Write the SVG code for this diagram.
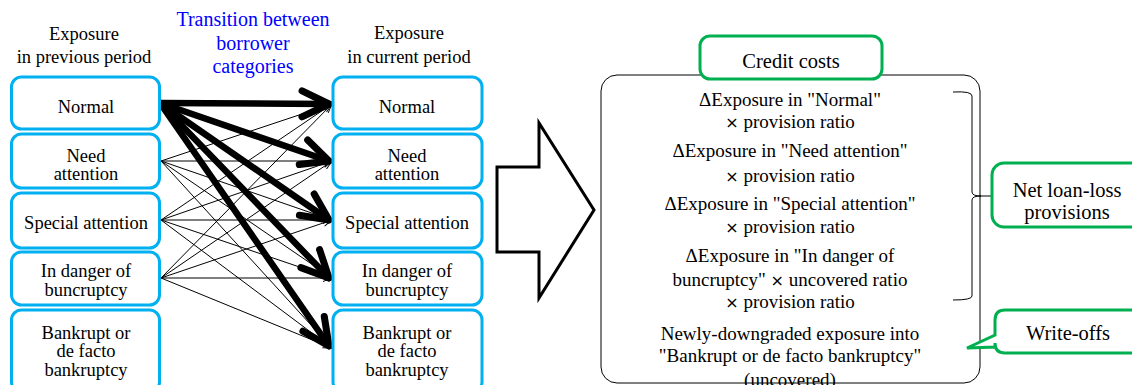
<svg xmlns="http://www.w3.org/2000/svg" width="1132" height="385" viewBox="0 0 1132 385" font-family="'Liberation Serif', Tinos, 'Times New Roman', 'DejaVu Serif', serif">
<style>
.t{font-family:"Liberation Serif",Tinos,"Times New Roman","DejaVu Serif",serif;fill:#000;text-anchor:middle}
.n{font-size:18.5px}
.p{font-size:19px}
.g{font-size:20.5px}
.blue{font-size:20px;fill:#0000ff}
.box{fill:#fff;stroke:#00b0f0;stroke-width:3}
.gbox{fill:#fff;stroke:#00b050;stroke-width:3}
.thin{stroke:#000;stroke-width:1;fill:none;marker-end:url(#ah)}
.thick{stroke:#000;stroke-width:6.5;fill:none;stroke-linecap:round;marker-end:url(#ahb)}
.x{font-family:"DejaVu Sans",sans-serif;font-size:16px}
</style>
<defs>
<marker id="ah" markerUnits="userSpaceOnUse" orient="auto" overflow="visible" markerWidth="1" markerHeight="1" refX="0" refY="0">
<path d="M-9,-3.5 L0,0 L-9,3.5" fill="none" stroke="#000" stroke-width="1"/>
</marker>
<marker id="ahb" markerUnits="userSpaceOnUse" orient="auto" overflow="visible" markerWidth="1" markerHeight="1" refX="0" refY="0">
<path d="M-27,-13 L0,0 L-27,13" fill="none" stroke="#000" stroke-width="7" stroke-linecap="round" stroke-linejoin="round"/>
</marker>
</defs>
<rect width="1132" height="385" fill="#fff"/>

<g id="headers">
<text class="t n" x="84" y="40">Exposure</text>
<text class="t n" x="84" y="63">in previous period</text>
<text class="t blue" x="253" y="26">Transition between</text>
<text class="t blue" x="253" y="50">borrower</text>
<text class="t blue" x="253" y="73">categories</text>
<text class="t n" x="409" y="39">Exposure</text>
<text class="t n" x="409" y="63">in current period</text>
</g>

<g id="connectors">
<line class="thin" x1="161" y1="161" x2="332" y2="104"/>
<line class="thin" x1="161" y1="161" x2="332" y2="161"/>
<line class="thin" x1="161" y1="161" x2="332" y2="220"/>
<line class="thin" x1="161" y1="161" x2="332" y2="278"/>
<line class="thin" x1="161" y1="161" x2="332" y2="348"/>
<line class="thin" x1="161" y1="220" x2="332" y2="104"/>
<line class="thin" x1="161" y1="220" x2="332" y2="161"/>
<line class="thin" x1="161" y1="220" x2="332" y2="220"/>
<line class="thin" x1="161" y1="220" x2="332" y2="278"/>
<line class="thin" x1="161" y1="220" x2="332" y2="348"/>
<line class="thin" x1="161" y1="278" x2="332" y2="104"/>
<line class="thin" x1="161" y1="278" x2="332" y2="161"/>
<line class="thin" x1="161" y1="278" x2="332" y2="220"/>
<line class="thin" x1="161" y1="278" x2="332" y2="278"/>
<line class="thin" x1="161" y1="278" x2="332" y2="348"/>
<line class="thick" x1="160" y1="103" x2="329" y2="104"/>
<line class="thick" x1="160" y1="103" x2="329" y2="161"/>
<line class="thick" x1="160" y1="103" x2="329" y2="220"/>
<line class="thick" x1="160" y1="103" x2="329" y2="278"/>
<line class="thick" x1="160" y1="103" x2="329" y2="346"/>
</g>

<g id="prev-normal"><rect class="box" x="11.5" y="77" width="148" height="52" rx="10"/><text class="t n" x="86" y="113">Normal</text></g>
<g id="prev-need"><rect class="box" x="11.5" y="134" width="148" height="54" rx="10"/><text class="t n" x="86" y="162">Need</text><text class="t n" x="86" y="180">attention</text></g>
<g id="prev-special"><rect class="box" x="11.5" y="193" width="148" height="55" rx="10"/><text class="t n" x="86" y="229">Special attention</text></g>
<g id="prev-danger"><rect class="box" x="11.5" y="252" width="148" height="53" rx="10"/><text class="t n" x="86" y="277">In danger of</text><text class="t n" x="86" y="296">buncruptcy</text></g>
<g id="prev-bankrupt"><rect class="box" x="11.5" y="310" width="148" height="82" rx="10"/><text class="t n" x="86" y="339">Bankrupt or</text><text class="t n" x="86" y="357">de facto</text><text class="t n" x="86" y="376">bankruptcy</text></g>

<g id="cur-normal"><rect class="box" x="333" y="77" width="149" height="52" rx="10"/><text class="t n" x="407" y="113">Normal</text></g>
<g id="cur-need"><rect class="box" x="333" y="134" width="149" height="54" rx="10"/><text class="t n" x="407" y="162">Need</text><text class="t n" x="407" y="180">attention</text></g>
<g id="cur-special"><rect class="box" x="333" y="193" width="149" height="55" rx="10"/><text class="t n" x="407" y="229">Special attention</text></g>
<g id="cur-danger"><rect class="box" x="333" y="252" width="149" height="53" rx="10"/><text class="t n" x="407" y="277">In danger of</text><text class="t n" x="407" y="296">buncruptcy</text></g>
<g id="cur-bankrupt"><rect class="box" x="333" y="310" width="149" height="82" rx="10"/><text class="t n" x="407" y="339">Bankrupt or</text><text class="t n" x="407" y="357">de facto</text><text class="t n" x="407" y="376">bankruptcy</text></g>

<g id="big-arrow">
<polygon points="497,167 539,167 539,123 594,210 539,298 539,252 497,252" fill="#fff" stroke="#000" stroke-width="3" stroke-linejoin="miter"/>
</g>

<g id="credit-panel">
<rect x="601" y="75" width="379" height="308" rx="16" fill="#fff" stroke="#000" stroke-width="1"/>
<text class="t p" x="790" y="106">ΔExposure in "Normal"</text>
<text class="t p" x="790" y="128"><tspan class="x">×</tspan> provision ratio</text>
<text class="t p" x="790" y="157">ΔExposure in "Need attention"</text>
<text class="t p" x="790" y="182"><tspan class="x">×</tspan> provision ratio</text>
<text class="t p" x="790" y="210">ΔExposure in "Special attention"</text>
<text class="t p" x="790" y="233"><tspan class="x">×</tspan> provision ratio</text>
<text class="t p" x="790" y="262">ΔExposure in "In danger of</text>
<text class="t p" x="790" y="286">buncruptcy" <tspan class="x">×</tspan> uncovered ratio</text>
<text class="t p" x="790" y="308"><tspan class="x">×</tspan> provision ratio</text>
<text class="t p" x="790" y="340">Newly-downgraded  exposure into</text>
<text class="t p" x="790" y="362">"Bankrupt or de facto bankruptcy"</text>
<text class="t p" x="790" y="386">(uncovered)</text>
</g>

<g id="credit-costs"><rect class="gbox" x="700" y="36" width="182" height="43" rx="10"/><text class="t g" x="791" y="68">Credit costs</text></g>

<g id="brace">
<path d="M953,92 Q972,91 972,96 L972,192 Q972,196 981,196 Q972,196 972,200 L972,296 Q972,300 953,300" fill="none" stroke="#000" stroke-width="1"/>
<line x1="980" y1="196" x2="993" y2="196" stroke="#000" stroke-width="1"/>
</g>

<g id="net-provisions"><rect class="gbox" x="992" y="163" width="160" height="64" rx="12"/><text class="t g" x="1067" y="197">Net loan-loss</text><text class="t g" x="1067" y="219">provisions</text></g>

<g id="write-offs">
<path d="M1150,310 L1005,310 Q995,310 995,320 L995,335 L967,348 L995,347 L995,343 Q995,353 1005,353 L1150,353" fill="#fff" stroke="#00b050" stroke-width="3" stroke-linejoin="miter"/>
<text class="t g" x="1068" y="340">Write-offs</text>
</g>
</svg>
